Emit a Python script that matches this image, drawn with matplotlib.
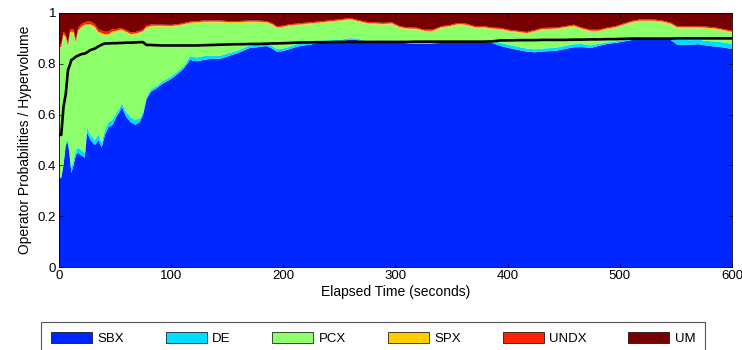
import matplotlib
matplotlib.use('Agg')
import matplotlib.pyplot as plt
from matplotlib.patches import Patch
import numpy as np

plt.rcParams['font.family'] = ['Liberation Sans', 'DejaVu Sans']

# Elapsed time (seconds)
time_s = [0, 2, 4, 6, 8, 10, 11, 13, 15, 17,
          20, 23, 25, 28, 32, 35, 38, 41, 44, 48,
          51, 54, 56, 60, 64, 68, 72, 75, 78, 82,
          86, 92, 100, 106, 111, 117, 123, 129, 136, 144,
          151, 158, 164, 170, 177, 185, 190, 194, 200, 206,
          212, 218, 224, 230, 240, 250, 260, 266, 274, 281,
          289, 297, 304, 311, 319, 326, 333, 341, 349, 356,
          363, 371, 379, 386, 394, 401, 409, 417, 424, 431,
          439, 444, 451, 459, 466, 474, 481, 489, 496, 503,
          510, 517, 524, 531, 538, 545, 551, 556, 563, 570,
          577, 584, 591, 600]

# SBX probability
sbx = [0.35, 0.35, 0.40, 0.48, 0.49, 0.42, 0.37, 0.40, 0.44, 0.45,
       0.44, 0.43, 0.53, 0.50, 0.48, 0.50, 0.47, 0.52, 0.55, 0.56,
       0.59, 0.61, 0.63, 0.59, 0.57, 0.56, 0.57, 0.60, 0.66, 0.69,
       0.70, 0.72, 0.74, 0.76, 0.78, 0.815, 0.81, 0.815, 0.82, 0.82,
       0.83, 0.84, 0.85, 0.862, 0.865, 0.87, 0.86, 0.848, 0.85, 0.858,
       0.867, 0.872, 0.875, 0.882, 0.885, 0.888, 0.895, 0.893, 0.884, 0.885,
       0.886, 0.885, 0.884, 0.880, 0.878, 0.878, 0.880, 0.882, 0.882, 0.883,
       0.882, 0.883, 0.885, 0.882, 0.870, 0.862, 0.855, 0.848, 0.845, 0.848,
       0.850, 0.852, 0.858, 0.865, 0.866, 0.862, 0.870, 0.878, 0.882, 0.887,
       0.893, 0.895, 0.896, 0.896, 0.895, 0.895, 0.876, 0.874, 0.875, 0.877,
       0.872, 0.868, 0.865, 0.858]

# DE probability
de = [0.005, 0.005, 0.005, 0.01, 0.01, 0.015, 0.02, 0.02, 0.02, 0.02,
      0.02, 0.02, 0.02, 0.02, 0.02, 0.02, 0.02, 0.02, 0.02, 0.02,
      0.015, 0.015, 0.015, 0.02, 0.02, 0.02, 0.015, 0.01, 0.01, 0.01,
      0.01, 0.01, 0.01, 0.01, 0.01, 0.015, 0.015, 0.015, 0.012, 0.012,
      0.012, 0.01, 0.01, 0.01, 0.01, 0.01, 0.01, 0.01, 0.01, 0.01,
      0.01, 0.01, 0.01, 0.008, 0.008, 0.006, 0.006, 0.006, 0.006, 0.006,
      0.006, 0.006, 0.006, 0.006, 0.006, 0.006, 0.006, 0.006, 0.006, 0.006,
      0.006, 0.006, 0.006, 0.008, 0.012, 0.012, 0.012, 0.012, 0.012, 0.012,
      0.012, 0.012, 0.012, 0.012, 0.012, 0.01, 0.008, 0.006, 0.006, 0.006,
      0.006, 0.006, 0.006, 0.006, 0.006, 0.008, 0.02, 0.02, 0.018, 0.018,
      0.018, 0.02, 0.02, 0.02]

# upper edge of the PCX band (SBX + DE + PCX)
pcx_top = [0.86, 0.86, 0.91, 0.90, 0.865, 0.92, 0.92, 0.92, 0.88, 0.925,
           0.94, 0.948, 0.95, 0.95, 0.94, 0.92, 0.915, 0.91, 0.91, 0.922,
           0.925, 0.93, 0.93, 0.922, 0.913, 0.915, 0.92, 0.925, 0.94, 0.945,
           0.946, 0.946, 0.945, 0.948, 0.952, 0.958, 0.96, 0.962, 0.962, 0.962,
           0.96, 0.96, 0.961, 0.962, 0.962, 0.96, 0.952, 0.94, 0.942, 0.948,
           0.95, 0.953, 0.955, 0.958, 0.962, 0.967, 0.972, 0.965, 0.957, 0.955,
           0.953, 0.955, 0.94, 0.935, 0.934, 0.926, 0.926, 0.94, 0.945, 0.953,
           0.95, 0.94, 0.94, 0.935, 0.933, 0.926, 0.922, 0.917, 0.925, 0.933,
           0.934, 0.935, 0.94, 0.946, 0.935, 0.926, 0.926, 0.935, 0.94, 0.95,
           0.96, 0.966, 0.966, 0.966, 0.962, 0.955, 0.94, 0.94, 0.94, 0.94,
           0.938, 0.936, 0.93, 0.922]

# SPX probability
spx = [0.006, 0.006, 0.006, 0.006, 0.006, 0.006, 0.006, 0.006, 0.006, 0.006,
       0.006, 0.006, 0.006, 0.006, 0.006, 0.006, 0.006, 0.006, 0.006, 0.006,
       0.004, 0.004, 0.004, 0.004, 0.004, 0.004, 0.004, 0.004, 0.004, 0.004,
       0.004, 0.004, 0.004, 0.004, 0.004, 0.004, 0.004, 0.004, 0.004, 0.004,
       0.004, 0.004, 0.004, 0.004, 0.004, 0.004, 0.004, 0.004, 0.004, 0.004,
       0.004, 0.004, 0.004, 0.004, 0.004, 0.004, 0.004, 0.004, 0.004, 0.004,
       0.004, 0.004, 0.004, 0.004, 0.004, 0.004, 0.004, 0.004, 0.004, 0.004,
       0.004, 0.004, 0.004, 0.004, 0.004, 0.004, 0.004, 0.004, 0.004, 0.004,
       0.004, 0.004, 0.004, 0.004, 0.004, 0.004, 0.004, 0.004, 0.004, 0.004,
       0.004, 0.004, 0.004, 0.004, 0.004, 0.004, 0.004, 0.004, 0.004, 0.004,
       0.004, 0.004, 0.004, 0.004]

# UNDX probability
undx = [0.01, 0.01, 0.01, 0.01, 0.01, 0.01, 0.01, 0.01, 0.01, 0.01,
        0.01, 0.01, 0.01, 0.01, 0.01, 0.01, 0.01, 0.01, 0.01, 0.01,
        0.006, 0.006, 0.006, 0.006, 0.006, 0.006, 0.006, 0.006, 0.006, 0.006,
        0.004, 0.004, 0.004, 0.004, 0.004, 0.004, 0.004, 0.004, 0.004, 0.004,
        0.004, 0.004, 0.004, 0.004, 0.004, 0.004, 0.004, 0.004, 0.004, 0.004,
        0.004, 0.004, 0.004, 0.004, 0.004, 0.004, 0.004, 0.004, 0.004, 0.004,
        0.004, 0.004, 0.004, 0.004, 0.004, 0.004, 0.004, 0.004, 0.004, 0.004,
        0.004, 0.004, 0.004, 0.004, 0.004, 0.004, 0.004, 0.004, 0.004, 0.004,
        0.004, 0.004, 0.004, 0.004, 0.004, 0.004, 0.004, 0.004, 0.004, 0.004,
        0.004, 0.004, 0.004, 0.004, 0.004, 0.004, 0.004, 0.004, 0.004, 0.004,
        0.004, 0.004, 0.004, 0.004]

# hypervolume
hypervolume = [0.52, 0.52, 0.63, 0.68, 0.775, 0.80, 0.815, 0.82, 0.828, 0.832,
               0.838, 0.840, 0.845, 0.854, 0.86, 0.868, 0.875, 0.88, 0.88, 0.881,
               0.881, 0.882, 0.882, 0.883, 0.883, 0.884, 0.885, 0.885, 0.874, 0.874,
               0.873, 0.872, 0.872, 0.872, 0.872, 0.872, 0.872, 0.873, 0.874, 0.875,
               0.876, 0.877, 0.877, 0.878, 0.878, 0.879, 0.880, 0.880, 0.881, 0.882,
               0.883, 0.884, 0.884, 0.885, 0.885, 0.886, 0.886, 0.886, 0.886, 0.886,
               0.886, 0.886, 0.886, 0.886, 0.887, 0.887, 0.887, 0.887, 0.887, 0.887,
               0.887, 0.887, 0.887, 0.888, 0.892, 0.892, 0.893, 0.893, 0.893, 0.894,
               0.894, 0.894, 0.894, 0.895, 0.895, 0.896, 0.896, 0.897, 0.897, 0.898,
               0.899, 0.899, 0.899, 0.899, 0.899, 0.899, 0.9, 0.9, 0.9, 0.9,
               0.9, 0.9, 0.9, 0.9]

operators = ['SBX', 'DE', 'PCX', 'SPX', 'UNDX', 'UM']
colors = ['#0026FF', '#00DDFF', '#8CFF6A', '#FFCC00', '#FF2200', '#770000']

t = np.array(time_s)
p_sbx = np.array(sbx)
p_de = np.array(de)
p_pcx = np.array(pcx_top) - p_sbx - p_de
p_spx = np.array(spx)
p_undx = np.array(undx)
p_um = 1.0 - (np.array(pcx_top) + p_spx + p_undx)

fig = plt.figure(figsize=(7.42, 3.5), dpi=100)
ax = fig.add_axes([0.0795, 0.237, 0.907, 0.726])

ax.stackplot(t, p_sbx, p_de, p_pcx, p_spx, p_undx, p_um,
             colors=colors, linewidth=0)
ax.plot(t, hypervolume, color='black', linewidth=1.9)

ax.set_xlim(0, 600)
ax.set_ylim(0, 1)
ax.set_xticks([0, 100, 200, 300, 400, 500, 600])
ax.set_yticks([0, 0.2, 0.4, 0.6, 0.8, 1.0])
ax.set_yticklabels(['0', '0.2', '0.4', '0.6', '0.8', '1'])
ax.tick_params(direction='in', top=True, right=True, labelsize=9.5,
               length=3, width=0.5, pad=2)
for s in ax.spines.values():
    s.set_linewidth(0.6)
ax.set_axisbelow(False)

ax.set_xlabel('Elapsed Time (seconds)', fontsize=10, labelpad=2)
ax.set_ylabel('Operator Probabilities / Hypervolume', fontsize=10, labelpad=4)

# legend swatches with thin black outline, like the original
handles = [Patch(facecolor=c, edgecolor='black', linewidth=0.5, label=op)
           for op, c in zip(operators, colors)]
leg = fig.legend(handles=handles, loc='upper left', ncol=6, mode='expand',
                 bbox_to_anchor=(0.0553, 0.0, 0.895, 0.08),
                 fontsize=9.5, handlelength=3.1, handleheight=0.9,
                 handletextpad=0.4, borderpad=0.75, borderaxespad=0,
                 fancybox=False, edgecolor='#555555', framealpha=1)
leg.get_frame().set_linewidth(0.8)

plt.savefig('out.png', dpi=100)
